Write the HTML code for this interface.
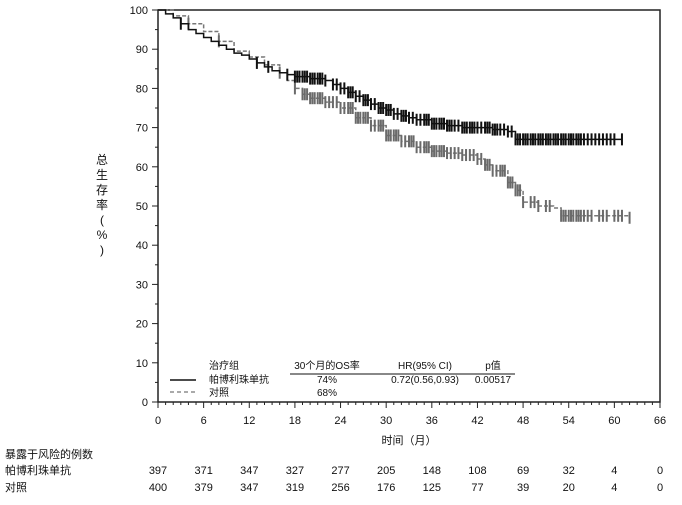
<!DOCTYPE html>
<html><head><meta charset="utf-8"><style>
body{margin:0;background:#fff;}
svg text{font-family:"Liberation Sans","Noto Sans CJK SC",sans-serif;fill:#111;}
</style></head><body>
<svg width="682" height="500" id="c"></svg>
<script>
const xTicks=[0,6,12,18,24,30,36,42,48,54,60,66];
const yTicks=[0,10,20,30,40,50,60,70,80,90,100];
const pembroT=[0,1,2,3,4,5,6,7,8,9,10,11,12,13,14,15,16,17,18,20,22,23,24,25,26,27,28,29,30,31,32,33,34,36,38,40,44,46,47,61];
const pembroS=[100,99,98,96.5,95,94,93,92,91,90,89,88.5,87.5,86.5,85.5,84.5,84,83.5,83,82.5,82,81,80,79,78,77,76,75,74.5,73.5,73,72.5,72,71,70.5,70,69.5,69,67,67];
const ctrlT=[0,2,4,6,8,10,12,14,16,17,18,19,20,22,24,26,28,30,32,34,36,38,40,42,43,44,46,47,48,50,52,53,61,62];
const ctrlS=[100,98.5,96.5,94.5,92,89.5,88,86,84,82,80,78.5,77.5,76.5,75,72.5,70.5,68,66.5,65,64,63.5,63,62,60.5,59,56,54,51,50,49.5,47.5,47.5,47];
const pembroCens=[3,13,14.5,17,18,18.3,18.6,19,19.3,19.6,20,20.3,20.6,21,21.3,21.6,22,23,23.5,24,24.5,25,25.3,25.6,26,26.5,27,27.3,27.6,28,28.5,29,29.3,29.6,30,30.3,30.6,31,31.5,32,32.3,32.6,33,33.5,34,34.5,35,35.3,35.6,36,36.3,36.6,37,37.3,37.6,38,38.3,38.6,39,39.5,40,40.3,40.6,41,41.3,41.6,42,42.5,43,43.3,43.6,44,44.3,44.6,45,45.5,46,46.5,47,47.3,47.6,48,48.3,48.6,49,49.3,49.6,50,50.3,50.6,51,51.3,51.6,52,52.3,52.6,53,53.3,53.6,54,54.3,54.6,55,55.3,55.6,56,56.5,57,57.5,58,58.5,59,59.5,60,61];
const ctrlCens=[4,8,16,18,19,19.3,19.6,20,20.3,20.6,21,21.3,21.6,22,22.5,23,23.5,24,24.5,25,25.3,25.6,26,26.3,26.6,27,27.3,27.6,28,28.5,29,29.3,29.6,30,30.3,30.6,31,31.3,31.6,32,32.5,33,33.3,33.6,34,34.5,35,35.3,35.6,36,36.3,36.6,37,37.3,37.6,38,38.5,39,39.5,40,40.5,41,41.5,42,42.5,43,43.3,43.6,44,44.5,45,45.3,45.6,46,46.3,46.6,47,47.3,47.6,48,49,49.5,50,51,51.5,53,53.3,53.6,54,54.3,54.6,55,55.3,55.6,56,56.5,57,58,58.5,59,60,60.5,61,62];
const riskPembro=[397,371,347,327,277,205,148,108,69,32,4,0];
const riskCtrl=[400,379,347,319,256,176,125,77,39,20,4,0];
const X0=158,X1=660,Y0=402,Y1=10;
const sx=m=>X0+(X1-X0)*m/66, sy=v=>Y0-(Y0-Y1)*v/100;
const svg=document.getElementById('c');const NS='http://www.w3.org/2000/svg';
function mk(t,a,p){const e=document.createElementNS(NS,t);for(const k in a)e.setAttribute(k,a[k]);(p||svg).appendChild(e);return e;}
function txt(x,y,s,a,p){const e=mk('text',Object.assign({x:x,y:y,'font-size':11},a||{}),p);e.textContent=s;return e;}
const frame=mk('rect',{x:X0,y:Y1,width:X1-X0,height:Y0-Y1,fill:'none',stroke:'#222','stroke-width':1.5});

const ax=mk('g',{});
for(let m=0;m<=66;m++){mk('line',{x1:sx(m),x2:sx(m),y1:Y0,y2:Y0+(m%6==0?6:3),stroke:'#222'},ax);}
xTicks.forEach(t=>{txt(sx(t),Y0+22,t,{'text-anchor':'middle'},ax);});
const ay=mk('g',{});
for(let v=0;v<=100;v+=5){mk('line',{x1:X0,x2:X0-(v%10==0?6:3),y1:sy(v),y2:sy(v),stroke:'#222'},ay);}
yTicks.forEach(t=>{txt(X0-10,sy(t)+4,t,{'text-anchor':'end'},ay);});
const xt=txt(409,444,'时间（月）',{'text-anchor':'middle'});
const yl=mk('g',{});
['总','生','存','率','(','%',')'].forEach((c,i)=>txt(102,164+i*15,c,{'text-anchor':'middle','font-size':12},yl));
function stepPath(T,S){let d='M'+sx(T[0])+','+sy(S[0]);for(let i=1;i<T.length;i++){d+='H'+sx(T[i])+'V'+sy(S[i]);}return d;}
function lookup(T,S,t){let v=S[0];for(let i=0;i<T.length;i++){if(T[i]<=t)v=S[i];}return v;}
const cp=mk('path',{d:stepPath(ctrlT,ctrlS),fill:'none',stroke:'#777','stroke-width':1.5,'stroke-dasharray':'4,2'});

ctrlCens.forEach(t=>{const y=sy(lookup(ctrlT,ctrlS,t));const l=mk('line',{x1:sx(t),x2:sx(t),y1:y-6,y2:y+6,stroke:'#6a6a6a','stroke-width':2});});
const pp=mk('path',{d:stepPath(pembroT,pembroS),fill:'none',stroke:'#111','stroke-width':1.5});

pembroCens.forEach(t=>{const y=sy(lookup(pembroT,pembroS,t));const l=mk('line',{x1:sx(t),x2:sx(t),y1:y-6,y2:y+6,stroke:'#111','stroke-width':2});});
const lg=mk('g',{'font-size':10});
mk('line',{x1:170,x2:196,y1:380,y2:380,stroke:'#111','stroke-width':1.5},lg);
mk('line',{x1:170,x2:196,y1:392,y2:392,stroke:'#777','stroke-width':1.3,'stroke-dasharray':'4,3'},lg);
mk('line',{x1:290,x2:515,y1:374,y2:374,stroke:'#111'},lg);
[['治疗组',209,369,'start'],['帕博利珠单抗',209,383,'start'],['对照',209,396,'start'],['30个月的OS率',327,369,'middle'],['74%',327,383,'middle'],['68%',327,396,'middle'],['HR(95% CI)',425,369,'middle'],['0.72(0.56,0.93)',425,383,'middle'],['p值',493,369,'middle'],['0.00517',493,383,'middle']].forEach(a=>txt(a[1],a[2],a[0],{'text-anchor':a[3],'font-size':10},lg));
const rt=mk('g',{});
txt(5,458,'暴露于风险的例数',{},rt);txt(5,474,'帕博利珠单抗',{},rt);txt(5,491,'对照',{},rt);
xTicks.forEach((t,i)=>{txt(sx(t),474,riskPembro[i],{'text-anchor':'middle'},rt);txt(sx(t),491,riskCtrl[i],{'text-anchor':'middle'},rt);});
</script></body></html>
